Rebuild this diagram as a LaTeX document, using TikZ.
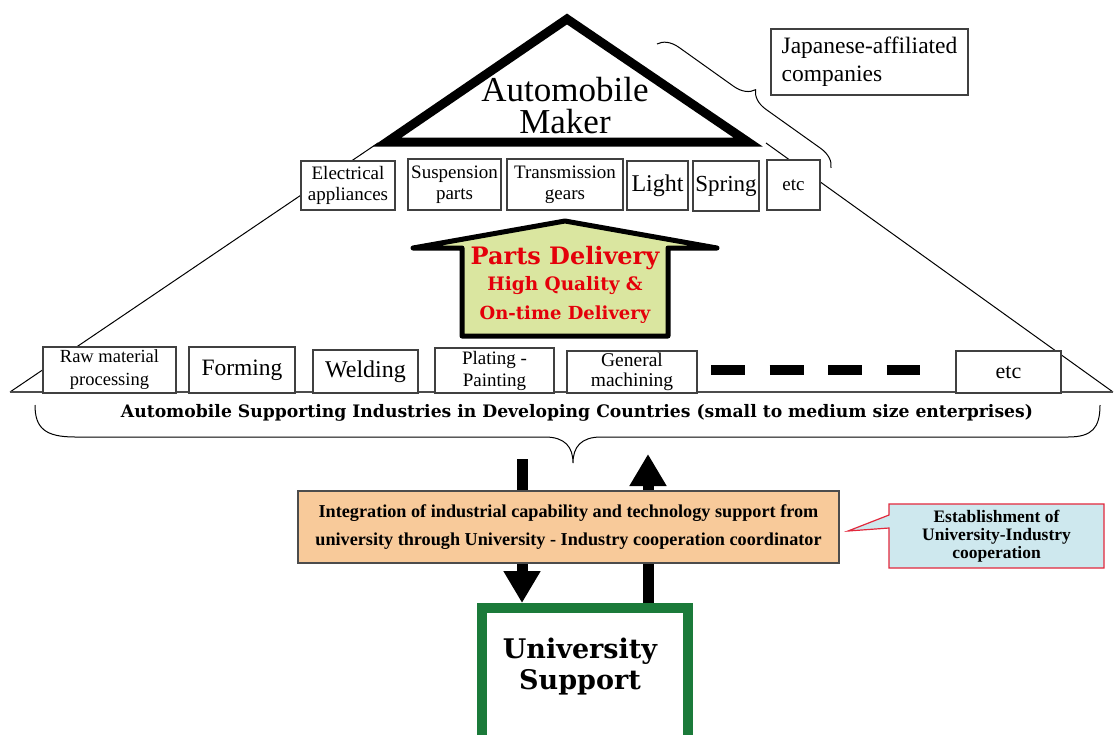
\documentclass[tikz,border=0pt]{standalone}
\usepackage{fontspec}
\setmainfont{Liberation Serif}
\newfontfamily\slab{DejaVu Serif}
\usetikzlibrary{arrows.meta,decorations.pathreplacing}
\definecolor{housefill}{RGB}{218,230,160}
\definecolor{partred}{RGB}{228,0,10}
\definecolor{orangefill}{RGB}{248,202,154}
\definecolor{callfill}{RGB}{206,232,238}
\definecolor{callred}{RGB}{226,40,60}
\definecolor{unigreen}{RGB}{27,122,58}
\begin{document}
\begin{tikzpicture}[x=1pt,y=-1pt,
  thinline/.style={draw=black, line width=1pt},
  box/.style={draw=black!75, line width=1.3pt, fill=white, inner sep=0pt, align=center},
  tbox/.style={box, font=\fontsize{19}{21}\selectfont},
  bbox/.style={box, font=\fontsize{18.5}{23}\selectfont},
  bigarrow/.style={line width=11pt, -{Triangle[width=35pt,length=32pt]}},
  redtext/.style={text=partred, font=\slab\bfseries\fontsize{#1}{#1}\selectfont}
]
\useasboundingbox (0,0) rectangle (1115,734);
% outer thin triangle and base line
\coordinate (bl) at (10,392);
\coordinate (br) at (1113,392);
\coordinate (tl) at (378,143);
\coordinate (tr) at (766,143);
\draw[thinline] (tl) -- (bl);
\draw[thinline] (tr) -- (br);
\draw[draw=black!70, line width=1.5pt] (bl) -- (br);
% automobile maker triangle
\draw[line width=9pt, line join=miter, fill=white] (387,142) -- (567,19) -- (748,142) -- cycle;
\node[font=\fontsize{35}{32}\selectfont, align=center] (maker) at (565,106) {Automobile\\Maker};
% top row of parts
\node[tbox, minimum width=94pt, minimum height=49pt] (elec) at (348,185.5) {Electrical\\appliances};
\node[tbox, minimum width=93pt, minimum height=51pt] (susp) at (454.5,184.5) {Suspension\\parts};
\node[tbox, minimum width=116pt, minimum height=51pt] (trans) at (565,184.5) {Transmission\\gears};
\node[box, font=\fontsize{24}{26}\selectfont, minimum width=61pt, minimum height=49pt] (light) at (657.5,185.5) {Light};
\node[box, line width=1.8pt, font=\fontsize{23}{26}\selectfont, minimum width=66pt, minimum height=50pt] (spring) at (726,186) {Spring};
\node[box, font=\fontsize{19}{21}\selectfont, minimum width=53pt, minimum height=50pt] (etca) at (793.5,185) {etc};
% Japanese-affiliated
\node[box, align=left, font=\fontsize{23.5}{28}\selectfont, minimum width=197pt, minimum height=66pt] (jap) at (869.5,62) {Japanese-affiliated\\companies};
\draw[thinline, decorate, decoration={brace, amplitude=20pt}] (657,44) -- (831,168);
% parts delivery arrow
\draw[line width=5pt, line join=round, fill=housefill] (413,248) -- (565,221) -- (717,248) -- (668,248) -- (668,336) -- (462,336) -- (462,248) -- cycle;
\node[redtext=24] (pd) at (565,258) {Parts Delivery};
\node[redtext=18.5] (hq) at (565,286) {High Quality \&};
\node[redtext=18] (ot) at (565,315) {On-time Delivery};
% bottom row
\node[bbox, minimum width=133pt, minimum height=46pt] (raw) at (109.5,370) {Raw material\\processing};
\node[box, font=\fontsize{23.5}{25}\selectfont, minimum width=106pt, minimum height=46pt] (form) at (242,370) {Forming};
\node[box, font=\fontsize{24}{25}\selectfont, minimum width=105pt, minimum height=43pt] (weld) at (365.5,371.5) {Welding};
\node[box, font=\fontsize{19}{22}\selectfont, minimum width=119pt, minimum height=45pt] (plat) at (494.5,370.5) {Plating -\\Painting};
\node[box, font=\fontsize{19.5}{20}\selectfont, minimum width=130pt, minimum height=42pt] (gen) at (632,372) {General\\machining};
\draw[line width=10pt, dash pattern=on 34pt off 24.5pt] (711,370) -- (920,370);
\node[box, font=\fontsize{22}{24}\selectfont, minimum width=105pt, minimum height=42pt] (etcb) at (1008.5,372) {etc};
% supporting industries brace
\draw[thinline] (35,405) .. controls (35,428) and (45,437) .. (75,437) -- (545,437) .. controls (565,437) and (573,447) .. (573,463) .. controls (573,447) and (581,437) .. (601,437) -- (1068,437) .. controls (1092,437) and (1100,428) .. (1100,405);
\node[font=\slab\bfseries\fontsize{17.2}{18}\selectfont] (sup) at (577,413) {Automobile Supporting Industries in Developing Countries (small to medium size enterprises)};
% university box
\node[draw=unigreen, line width=10pt, minimum width=206pt, minimum height=134pt, inner sep=0pt] (univ) at (585,675) {};
\node[font=\slab\bfseries\fontsize{27}{31}\selectfont, align=center] (unitext) at (580,667) {University\\Support};
% arrows
\coordinate (dtop) at (522,459);
\coordinate (utip) at (648,454);
\draw[bigarrow] (dtop) -- (dtop |- univ.north);
\draw[bigarrow] (utip |- univ.north) -- (utip);
% integration box
\node[draw=black!70, line width=1.5pt, fill=orangefill, minimum width=541pt, minimum height=72pt, inner sep=0pt, align=center, font=\bfseries\fontsize{18.2}{28}\selectfont] (integ) at (568.5,527) {Integration of industrial capability and technology support from\\university through University - Industry cooperation coordinator};
% callout
\draw[draw=callred, line width=1.2pt, fill=callfill, line join=miter] (889,504) -- (1104,504) -- (1104,568) -- (889,568) -- (889,528) -- (848,531) -- (889,515) -- cycle;
\node[align=center, font=\bfseries\fontsize{17.5}{18}\selectfont] (estab) at (996.5,536) {Establishment of\\University-Industry\\cooperation};
\end{tikzpicture}
\end{document}
